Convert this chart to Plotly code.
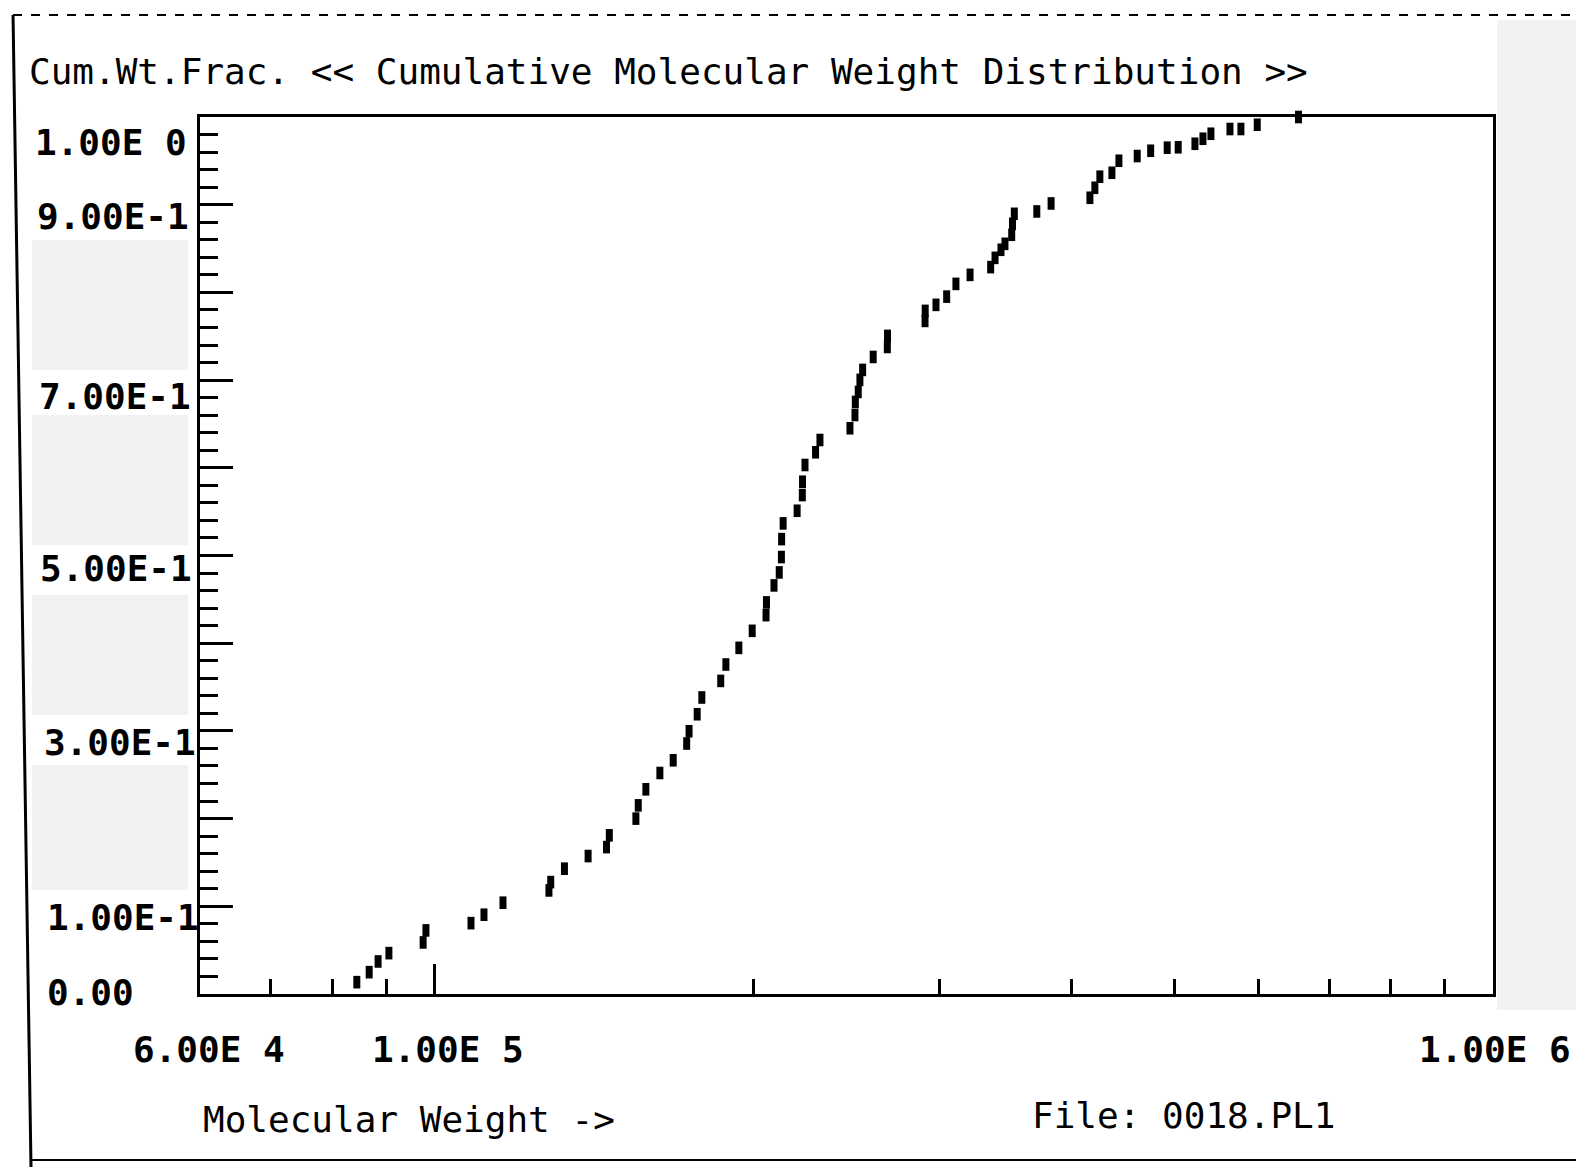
import math
import plotly.graph_objects as go

# ---------------- data ----------------
mol_weight = [84400, 86700, 88400, 90500, 97500, 98100, 108200, 111300, 116000, 128200,
              128700, 132600, 139600, 145300, 146200, 154900, 155700, 158300, 163200, 168000,
              173000, 173900, 177000, 178800, 186300, 188400, 193800, 199500, 205600, 205800,
              209200, 211600, 212600, 212700, 213400, 220000, 222500, 222600, 223800, 229000,
              231200, 246800, 249500, 249700, 251300, 252200, 253700, 259600, 267700, 267800,
              290600, 290700, 297600, 304600, 310800, 320500, 335200, 338400, 342800, 345800,
              350900, 351500, 352900, 370600, 382300, 416000, 420500, 425100, 436400, 443100,
              461100, 474800, 492200, 504100, 522800, 532000, 541300, 564200, 577800, 598700,
              654900]
cum_wt_frac = [0.0135, 0.0249, 0.0371, 0.0466, 0.0588, 0.0725, 0.0808, 0.0904, 0.1041, 0.1181,
               0.1276, 0.1429, 0.1573, 0.1675, 0.1809, 0.2000, 0.2151, 0.2334, 0.2520, 0.2665,
               0.2856, 0.2996, 0.3190, 0.3381, 0.3570, 0.3757, 0.3947, 0.4141, 0.4320, 0.4465,
               0.4659, 0.4807, 0.4982, 0.5187, 0.5366, 0.5510, 0.5689, 0.5841, 0.6032, 0.6177,
               0.6317, 0.6451, 0.6602, 0.6751, 0.6865, 0.7002, 0.7116, 0.7264, 0.7378, 0.7504,
               0.7675, 0.7789, 0.7858, 0.7952, 0.8097, 0.8200, 0.8288, 0.8394, 0.8486, 0.8554,
               0.8657, 0.8782, 0.8896, 0.8923, 0.9014, 0.9079, 0.9193, 0.9319, 0.9364, 0.9501,
               0.9555, 0.9615, 0.9650, 0.9655, 0.9695, 0.9752, 0.9809, 0.9863, 0.9863, 0.9912,
               1.0000]

x_tick_vals = [6e4, 1e5, 1e6]
x_tick_text = ["6.00E 4", "1.00E 5", "1.00E 6"]
x_minor_vals = [7e4, 8e4, 9e4, 2e5, 3e5, 4e5, 5e5, 6e5, 7e5, 8e5, 9e5]
y_label_vals = [0.0, 0.1, 0.3, 0.5, 0.7, 0.9, 1.0]
y_label_text = ["0.00", "1.00E-1", "3.00E-1", "5.00E-1", "7.00E-1", "9.00E-1", "1.00E 0"]

title_text = "Cum.Wt.Frac. << Cumulative Molecular Weight Distribution >>"
xlabel_text = "Molecular Weight ->"
file_text = "File: 0018.PL1"

# ---------------- figure ----------------
MONO = "DejaVu Sans Mono"

fig = go.Figure()
fig.add_trace(go.Scatter(
    x=mol_weight, y=cum_wt_frac, mode="markers",
    marker=dict(symbol="line-ns", size=9, color="black",
                line=dict(color="black", width=7)),
    cliponaxis=False, showlegend=False,
))

fig.update_layout(
    width=1576, height=1167, autosize=False,
    margin=dict(l=200, r=83, t=117, b=173, pad=0, autoexpand=False),
    paper_bgcolor="white", plot_bgcolor="white",
    font=dict(family=MONO, color="black"),
)

fig.update_xaxes(
    type="log", range=[math.log10(6e4), math.log10(1e6)], automargin=False,
    showgrid=False, zeroline=False,
    showline=True, linecolor="black", linewidth=3, mirror=True,
    ticks="inside", tickmode="array", tickvals=x_tick_vals,
    ticklen=30, tickwidth=3, tickcolor="black", showticklabels=False,
    minor=dict(tickmode="array", tickvals=x_minor_vals, ticks="inside",
               ticklen=15, tickwidth=3, tickcolor="black", showgrid=False),
)

fig.update_yaxes(
    range=[0, 1], automargin=False, showgrid=False, zeroline=False,
    showline=True, linecolor="black", linewidth=3, mirror=True,
    ticks="inside", tick0=0, dtick=0.1, ticklen=33, tickwidth=3, tickcolor="black",
    showticklabels=False,
    minor=dict(tick0=0, dtick=0.02, ticks="inside", ticklen=18, tickwidth=3,
               tickcolor="black", showgrid=False),
)

# light halftone-like patches of the scanned page (decoration only)
_patches = [(1.0031, 1.0642, -0.0182, 1.1106),
            (-0.1299, -0.0093, 0.7115, 0.8597),
            (-0.1299, -0.0093, 0.5120, 0.6602),
            (-0.1299, -0.0093, 0.3181, 0.4550),
            (-0.1299, -0.0093, 0.1186, 0.2611)]
for x0, x1, y0, y1 in _patches:
    fig.add_shape(type="rect", xref="paper", yref="paper", x0=x0, x1=x1, y0=y0, y1=y1,
                  fillcolor="#f2f2f2", line=dict(width=0), layer="below")

# x tick labels, tied to the log axis
_xlab_nudge = [9, 13, 2]
for v, t, dx in zip(x_tick_vals, x_tick_text, _xlab_nudge):
    fig.add_annotation(x=math.log10(v), xref="x", y=0, yref="paper", text=t, showarrow=False,
                       xanchor="center", yanchor="middle", xshift=dx, yshift=-55,
                       font=dict(family=MONO, size=36, color="black", weight="bold"))

# y tick labels (placed like the original plotter output)
_ylab_nudge = [(-155, 2), (-155, -11), (-158, -12), (-162, -13), (-163, -16), (-165, -12), (-167, -25)]
for v, t, (dx, dy) in zip(y_label_vals, y_label_text, _ylab_nudge):
    fig.add_annotation(x=0, xref="paper", y=v, yref="y", text=t, showarrow=False,
                       xanchor="left", yanchor="middle", xshift=dx, yshift=dy,
                       font=dict(family=MONO, size=36, color="black", weight="bold"))

# title and bottom texts
fig.add_annotation(x=0, xref="paper", y=1, yref="paper", text=title_text, showarrow=False,
                   xanchor="left", yanchor="middle", xshift=-173, yshift=46,
                   font=dict(family=MONO, size=36, color="black"))
fig.add_annotation(x=0, xref="paper", y=0, yref="paper", text=xlabel_text, showarrow=False,
                   xanchor="left", yanchor="middle", xshift=1, yshift=-125,
                   font=dict(family=MONO, size=36, color="black"))
fig.add_annotation(x=0.6419, xref="paper", y=0, yref="paper", text=file_text, showarrow=False,
                   xanchor="left", yanchor="middle", yshift=-121,
                   font=dict(family=MONO, size=36, color="black"))

# outer page border lines of the scanned print
fig.add_shape(type="line", xref="paper", yref="paper", x0=-0.1446, y0=1.1163, x1=-0.1307, y1=-0.1973,
              line=dict(color="black", width=3))
fig.add_shape(type="line", xref="paper", yref="paper", x0=-0.1446, y0=1.1163, x1=1.0642, y1=1.1163,
              line=dict(color="black", width=2, dash="dash"))
fig.add_shape(type="line", xref="paper", yref="paper", x0=-0.1307, y0=-0.1893, x1=1.0642, y1=-0.1893,
              line=dict(color="black", width=2))

fig.write_html("out.html", config={"displayModeBar": False},
               post_script="document.body.style.margin='0';document.body.style.overflow='hidden';")
